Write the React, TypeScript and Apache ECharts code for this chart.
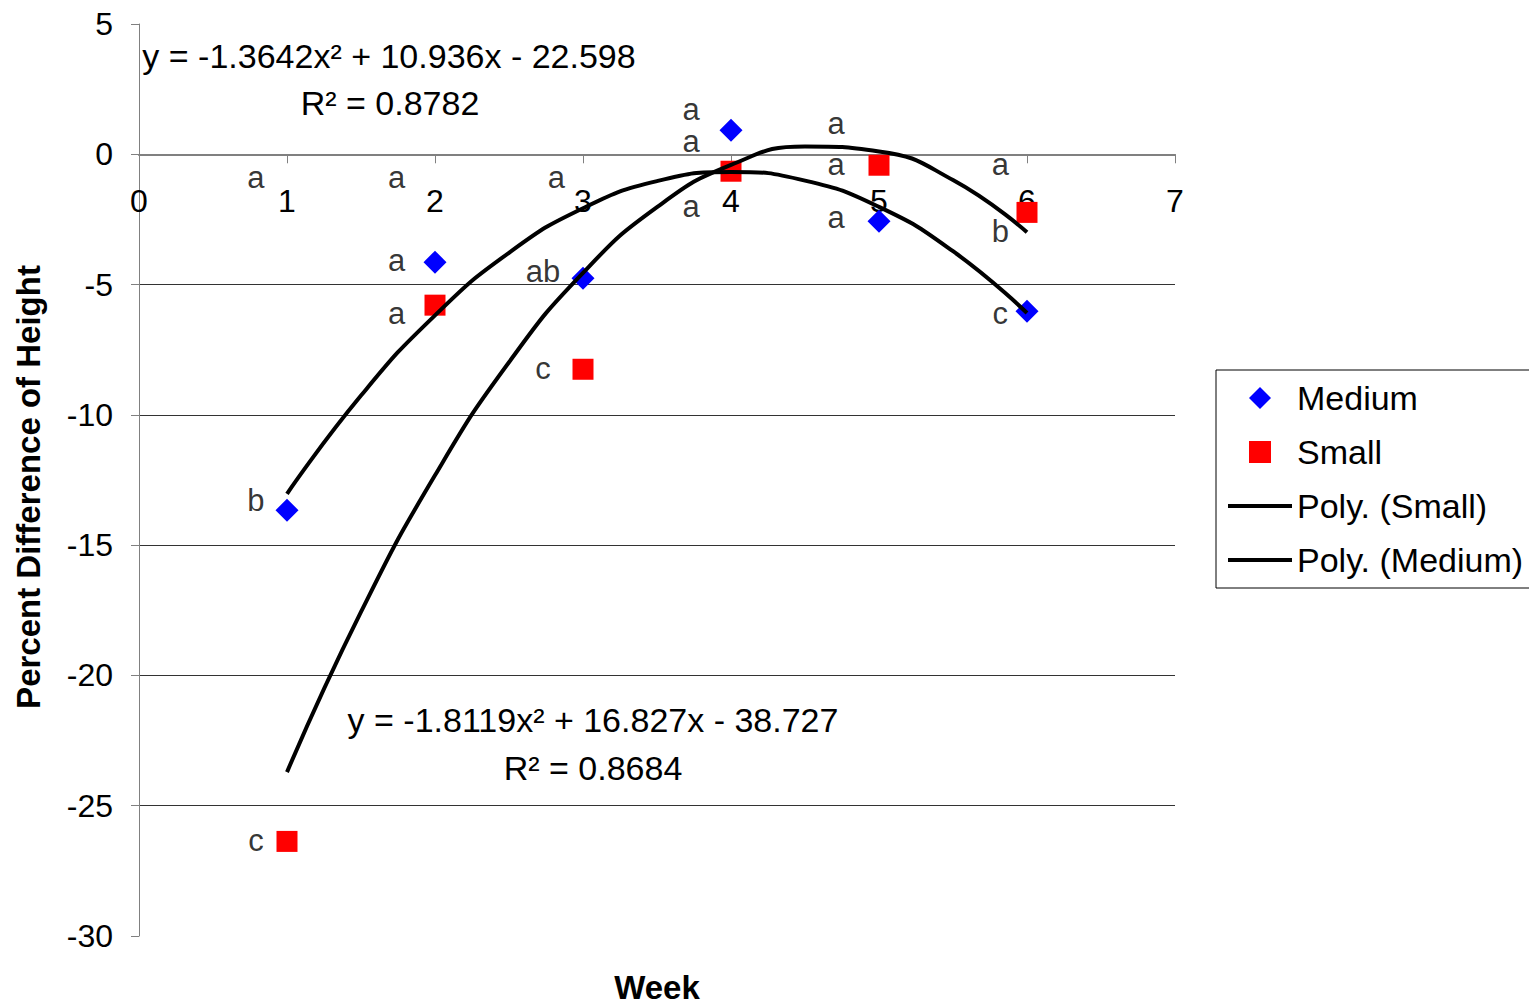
import React, { useEffect, useRef } from "react";
import * as echarts from "echarts";

const weeks = [1, 2, 3, 4, 5, 6];
const mediumValues = [-13.66, -4.14, -4.76, 0.92, -2.57, -6.02];
const smallValues = [-26.37, -5.79, -8.25, -0.65, -0.42, -2.23];

const trendWeeks = [1, 1.5, 2, 2.5, 3, 3.5, 4, 4.5, 5, 5.5, 6];
const polyMediumValues = [-13.03, -9.26, -6.18, -3.78, -2.07, -1.03, -0.68, -1.01, -2.02, -3.72, -6.09];
const polySmallValues = [-23.71, -17.56, -12.32, -7.98, -4.55, -2.03, -0.41, 0.3, 0.11, -0.99, -2.99];

const letterText = ["a", "a", "a", "b", "c", "a", "a", "ab", "c", "a", "a", "a", "a", "a", "a", "a", "b", "c"];
const letterX = [0.79, 1.74, 2.82, 0.79, 0.79, 1.74, 1.74, 2.73, 2.73, 3.73, 3.73, 3.73, 4.71, 4.71, 4.71, 5.82, 5.82, 5.82];
const letterY = [-0.88, -0.88, -0.88, -13.28, -26.33, -4.07, -6.1, -4.49, -8.21, 1.73, 0.5, -2.0, 1.19, -0.38, -2.42, -0.38, -2.96, -6.1];

const yTicks = { min: -30, max: 5, interval: 5 };
const xTicks = { min: 0, max: 7, interval: 1 };

const eqMedium = ["y = -1.3642x² + 10.936x - 22.598", "R² = 0.8782"];
const eqSmall = ["y = -1.8119x² + 16.827x - 38.727", "R² = 0.8684"];
const xTitle = "Week";
const yTitle = "Percent Difference of Height";

const FONT = '"Liberation Sans", Arial, sans-serif';

export default function App() {
  const ref = useRef<HTMLDivElement>(null);
  useEffect(() => {
    if (!ref.current) return;
    const chart = echarts.init(ref.current, null, { renderer: "svg" });
    const diamondIcon = "path://M1,0 L2,1 L1,2 L0,1 Z";
    const squareIcon = "path://M0,0 L1,0 L1,1 L0,1 Z";
    const lineIcon = "path://M0,0 L64,0 L64,4 L0,4 Z";
    const eqText = (x: number, y: number, text: string) => ({
      type: "text",
      x,
      y,
      style: { text, font: `34px ${FONT}`, fill: "#000", align: "center", verticalAlign: "middle" },
    });
    const option: any = {
      animation: false,
      backgroundColor: "#fff",
      textStyle: { fontFamily: FONT },
      grid: { left: 139, right: 354, top: 24, bottom: 70, containLabel: false, outerBoundsMode: "none" },
      legend: {
        orient: "vertical",
        left: 1216,
        top: 370,
        padding: [11, 40, 11, 12],
        borderColor: "#000",
        borderWidth: 1,
        itemWidth: 64,
        itemHeight: 22,
        itemGap: 20,
        itemTextGap: 8,
        symbolKeepAspect: true,
        textStyle: { fontFamily: FONT, fontSize: 34, color: "#000", lineHeight: 34 },
        data: [
          { name: "Medium", icon: diamondIcon },
          { name: "Small", icon: squareIcon },
          { name: "Poly. (Small)", icon: lineIcon },
          { name: "Poly. (Medium)", icon: lineIcon },
        ],
      },
      xAxis: {
        type: "value",
        min: xTicks.min,
        max: xTicks.max,
        interval: xTicks.interval,
        axisLine: { onZero: true, lineStyle: { color: "#808080", width: 2 } },
        axisTick: { show: true, length: 9, lineStyle: { color: "#808080", width: 1 } },
        axisLabel: { fontFamily: FONT, fontSize: 32, color: "#000", margin: -751 },
        splitLine: { show: false },
      },
      yAxis: {
        type: "value",
        min: yTicks.min,
        max: yTicks.max,
        interval: yTicks.interval,
        axisLine: { show: true, onZero: false, lineStyle: { color: "#808080", width: 1 } },
        axisTick: { show: true, length: 8, lineStyle: { color: "#808080", width: 1 } },
        axisLabel: { fontFamily: FONT, fontSize: 32, color: "#000", margin: 26 },
        splitLine: { show: true, showMinLine: false, showMaxLine: false, lineStyle: { color: "#333", width: 1 } },
      },
      graphic: [
        eqText(389, 56, eqMedium[0]),
        eqText(390, 103, eqMedium[1]),
        eqText(593, 720, eqSmall[0]),
        eqText(593, 768, eqSmall[1]),
        {
          type: "text",
          x: 657,
          y: 987,
          style: { text: xTitle, font: `bold 33px ${FONT}`, fill: "#000", align: "center", verticalAlign: "middle" },
        },
        {
          type: "text",
          x: 28,
          y: 487,
          rotation: Math.PI / 2,
          style: { text: yTitle, font: `bold 33px ${FONT}`, fill: "#000", align: "center", verticalAlign: "middle" },
        },
      ],
      series: [
        {
          name: "Medium",
          type: "scatter",
          symbol: "diamond",
          symbolSize: 23,
          itemStyle: { color: "#0000FF", opacity: 1 },
          data: weeks.map((w, i) => [w, mediumValues[i]]),
          z: 2,
        },
        {
          name: "Small",
          type: "scatter",
          symbol: "rect",
          symbolSize: 21,
          itemStyle: { color: "#FF0000", opacity: 1 },
          data: weeks.map((w, i) => [w, smallValues[i]]),
          z: 2,
        },
        {
          name: "Poly. (Small)",
          type: "line",
          smooth: true,
          showSymbol: false,
          symbol: "none",
          lineStyle: { color: "#000", width: 4 },
          itemStyle: { color: "#000" },
          data: trendWeeks.map((w, i) => [w, polySmallValues[i]]),
          z: 3,
        },
        {
          name: "Poly. (Medium)",
          type: "line",
          smooth: true,
          showSymbol: false,
          symbol: "none",
          lineStyle: { color: "#000", width: 4 },
          itemStyle: { color: "#000" },
          data: trendWeeks.map((w, i) => [w, polyMediumValues[i]]),
          z: 3,
        },
        {
          name: "letters",
          type: "scatter",
          silent: true,
          symbolSize: 1,
          itemStyle: { color: "rgba(0,0,0,0)" },
          label: {
            show: true,
            position: "inside",
            fontFamily: FONT,
            fontSize: 31,
            lineHeight: 28,
            color: "#000",
            formatter: (p: any) => p.data[2],
          },
          data: letterText.map((t, i) => [letterX[i], letterY[i], t]),
          z: 4,
        },
      ],
    };
    chart.setOption(option);
    return () => chart.dispose();
  }, []);
  return (
    <div
      ref={ref}
      style={{ position: "fixed", left: 0, top: 0, width: 1529, height: 1006, background: "#fff" }}
    />
  );
}
